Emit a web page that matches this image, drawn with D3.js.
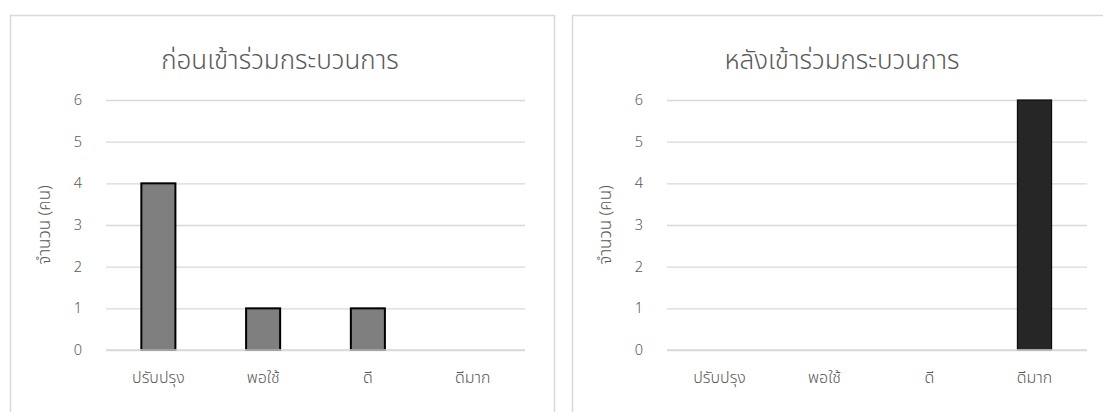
<!DOCTYPE html>
<html>
<head>
<meta charset="utf-8">
<script src="https://cdn.jsdelivr.net/npm/d3@7"></script>
<style>
  html, body { margin: 0; padding: 0; background: #ffffff; }
  svg { display: block; }
  text { font-family: "Leelawadee UI", "Noto Sans Thai", "Noto Sans", "Open Sans", sans-serif; font-weight: 300; fill: #595959; }
</style>
</head>
<body>
<svg id="chart" width="1103" height="412"></svg>
<script>
// Rating categories shared by both panels
const categories = ["ปรับปรุง", "พอใช้", "ดี", "ดีมาก"];
// Number of people per rating, before and after the process
const beforeValues = [4, 1, 1, 0];
const afterValues = [0, 0, 0, 6];
const yTicks = [0, 1, 2, 3, 4, 5, 6];
const titles = ["ก่อนเข้าร่วมกระบวนการ", "หลังเข้าร่วมกระบวนการ"];
const yAxisTitle = "จำนวน (คน)";

const svg = d3.select("#chart");

const panels = [
  { title: titles[0], values: beforeValues, box: [10, 15, 544, 420], plot: [106, 525], titleX: 280, fill: "#7f7f7f", stroke: "#000000", strokeW: 2 },
  { title: titles[1], values: afterValues, box: [572, 15, 560, 420], plot: [667, 1087], titleX: 842, fill: "#262626", stroke: "#0d0d0d", strokeW: 1.2 }
];

const plotTop = 100, plotBottom = 350;

panels.forEach(p => {
  const g = svg.append("g");

  // chart area border
  g.append("rect")
    .attr("x", p.box[0] + 0.5).attr("y", p.box[1] + 0.5)
    .attr("width", p.box[2]).attr("height", p.box[3])
    .attr("fill", "#ffffff").attr("stroke", "#d9d9d9").attr("stroke-width", 1.5);

  const x = d3.scaleBand().domain(categories).range(p.plot).paddingInner(0.675).paddingOuter(0.3375);
  const y = d3.scaleLinear().domain([0, 6]).range([plotBottom, plotTop]);

  // horizontal gridlines
  g.append("g")
    .attr("transform", `translate(${p.plot[0]},0)`)
    .call(d3.axisLeft(y).tickValues(yTicks).tickSize(-(p.plot[1] - p.plot[0])).tickFormat(""))
    .call(s => s.select(".domain").remove())
    .call(s => s.selectAll("line").attr("stroke", "#d9d9d9").attr("stroke-width", 1.3));

  // y tick labels
  const yAxis = g.append("g")
    .attr("transform", `translate(${p.plot[0] - 24},0)`)
    .call(d3.axisLeft(y).tickValues(yTicks).tickFormat(d3.format("d")).tickSize(0).tickPadding(0));
  yAxis.attr("font-family", null).attr("font-size", null);
  yAxis.select(".domain").remove();
  yAxis.selectAll("text").style("font-size", "14.5px").attr("fill", "#595959");

  // x category labels
  const xAxis = g.append("g")
    .attr("transform", `translate(0,${plotBottom + 22})`)
    .call(d3.axisBottom(x).tickSize(0).tickPadding(0));
  xAxis.attr("font-family", null).attr("font-size", null);
  xAxis.select(".domain").remove();
  xAxis.selectAll("text").style("font-size", "16px").attr("fill", "#595959").attr("dy", "0.71em");

  // bars
  g.selectAll("rect.bar")
    .data(categories.map((c, i) => ({ c, v: p.values[i] })).filter(d => d.v > 0))
    .join("rect")
    .attr("class", "bar")
    .attr("x", d => x(d.c))
    .attr("y", d => y(d.v))
    .attr("width", x.bandwidth())
    .attr("height", d => y(0) - y(d.v))
    .attr("fill", p.fill)
    .attr("stroke", p.stroke)
    .attr("stroke-width", p.strokeW);

  // category axis line drawn over the bar bases
  g.append("line")
    .attr("x1", p.plot[0]).attr("x2", p.plot[1])
    .attr("y1", y(0)).attr("y2", y(0))
    .attr("stroke", "#d9d9d9").attr("stroke-width", 1.5);

  // chart title
  g.append("text")
    .attr("x", p.titleX).attr("y", 69)
    .attr("text-anchor", "middle")
    .style("font-size", "26px")
    .text(p.title);

  // y axis title
  g.append("text")
    .attr("transform", `translate(${p.plot[0] - 56},${(plotTop + plotBottom) / 2}) rotate(-90)`)
    .attr("text-anchor", "middle")
    .style("font-size", "17px")
    .text(yAxisTitle);
});
</script>
</body>
</html>
